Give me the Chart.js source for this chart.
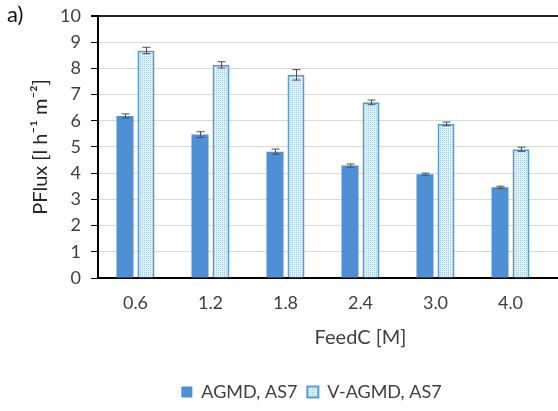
<!DOCTYPE html>
<html>
<head>
<meta charset="utf-8">
<script src="https://cdn.jsdelivr.net/npm/chart.js@4"></script>
<style>
    html, body { margin: 0; padding: 0; background: #fff; overflow: hidden; }
    #wrap { position: relative; width: 655px; height: 411px; }
    #tag { position: absolute; left: 7px; top: 0px; font-family: Lato, sans-serif; font-size: 22px; color: #111; }
</style>
</head>
<body>
<div id="wrap">
    <canvas id="fluxChart" width="655" height="411"></canvas>
    <div id="tag">a)</div>
</div>
<script>
// feed concentration [M]; the last slot is cut off at the right edge of the picture
const categorias = ['0.6', '1.2', '1.8', '2.4', '3.0', '4.0', ''];
const agmd = [6.18, 5.47, 4.82, 4.29, 3.96, 3.46, null];
const agmdErr = [0.08, 0.11, 0.1, 0.06, 0.04, 0.04, null];
const vagmd = [8.68, 8.13, 7.75, 6.70, 5.88, 4.91, null];
const vagmdErr = [0.12, 0.12, 0.2, 0.09, 0.07, 0.08, null];
const yTicks = { min: 0, max: 10, step: 0.5 };

document.addEventListener('DOMContentLoaded', initChart);

function makePattern() {
    const c = document.createElement('canvas');
    c.width = 4;
    c.height = 4;
    const g = c.getContext('2d');
    g.fillStyle = '#e9f0f8';
    g.fillRect(0, 0, 4, 4);
    g.fillStyle = '#a9c6e6';
    g.fillRect(0, 0, 1, 1);
    g.fillRect(2, 2, 1, 1);
    g.fillRect(2, 0, 1, 1);
    g.fillRect(0, 2, 1, 1);
    return g.createPattern(c, 'repeat');
}

// dibuja las barras de error
const errorBars = {
    id: 'errorBars',
    afterDatasetsDraw(chart) {
        const ctx = chart.ctx;
        const y = chart.scales.y;
        const errs = [agmdErr, vagmdErr];
        ctx.save();
        ctx.strokeStyle = '#4d4d4d';
        ctx.lineWidth = 1;
        chart.data.datasets.forEach((ds, i) => {
            chart.getDatasetMeta(i).data.forEach((bar, j) => {
                if (ds.data[j] == null) return;
                const x = Math.round(bar.x) + 0.5;
                const top = y.getPixelForValue(ds.data[j] + errs[i][j]);
                const bot = y.getPixelForValue(ds.data[j] - errs[i][j]);
                ctx.beginPath();
                ctx.moveTo(x, top);
                ctx.lineTo(x, bot);
                ctx.moveTo(x - 4, top);
                ctx.lineTo(x + 4, top);
                ctx.moveTo(x - 4, bot);
                ctx.lineTo(x + 4, bot);
                ctx.stroke();
            });
        });
        ctx.restore();
    }
};

function initChart() {
    const fam = 'Lato, "Open Sans", sans-serif';
    const gris = '#404040';

    new Chart(document.getElementById('fluxChart'), {
        type: 'bar',
        data: {
            labels: categorias,
            datasets: [{
                label: 'AGMD, AS7',
                data: agmd,
                backgroundColor: '#4f8fd4',
                borderColor: '#4f8fd4',
                borderWidth: 0
            }, {
                label: 'V-AGMD, AS7',
                data: vagmd,
                backgroundColor: makePattern(),
                borderColor: '#5b9bd5',
                borderWidth: 2
            }]
        },
        options: {
            responsive: false,
            animation: false,
            devicePixelRatio: 1,
            categoryPercentage: 0.56,
            barPercentage: 0.81,
            layout: { padding: { top: 2, right: 32, left: 0, bottom: 0 } },
            plugins: {
                legend: {
                    position: 'bottom',
                    labels: {
                        boxWidth: 11,
                        boxHeight: 11,
                        padding: 10,
                        color: gris,
                        font: { family: fam, size: 18 }
                    }
                },
                tooltip: { enabled: false }
            },
            scales: {
                x: {
                    grid: { display: false, drawTicks: false },
                    border: { color: '#000', width: 2 },
                    ticks: { color: gris, font: { family: fam, size: 18 }, padding: 14 },
                    title: {
                        display: true,
                        text: 'FeedC [M]',
                        color: gris,
                        font: { family: fam, size: 20 },
                        padding: { top: 0, bottom: 23 }
                    },
                    afterFit: s => { s.height = 95; }
                },
                y: {
                    min: yTicks.min,
                    max: yTicks.max,
                    ticks: {
                        stepSize: yTicks.step,
                        color: gris,
                        font: { family: fam, size: 18, lineHeight: 0.65 },
                        padding: 10,
                        callback: v => (v % 1 === 0 ? v : '')
                    },
                    grid: {
                        color: c => c.tick.value === 10 ? '#222' : (c.tick.value % 1 ? '#eeeeee' : '#d9d9d9'),
                        lineWidth: c => c.tick.value === 10 ? 2 : 1,
                        tickColor: c => c.tick.value % 1 ? 'rgba(0,0,0,0)' : '#000',
                        tickLength: 7
                    },
                    border: { color: '#000', width: 2 },
                    title: {
                        display: true,
                        text: 'PFlux [l h\u207B\u00B9 m\u207B\u00B2]',
                        color: '#262626',
                        font: { family: fam, size: 20 },
                        padding: { top: 29, bottom: 0 }
                    },
                    afterFit: s => { s.width = 98; }
                }
            }
        },
        plugins: [errorBars]
    });
}
</script>
</body>
</html>
